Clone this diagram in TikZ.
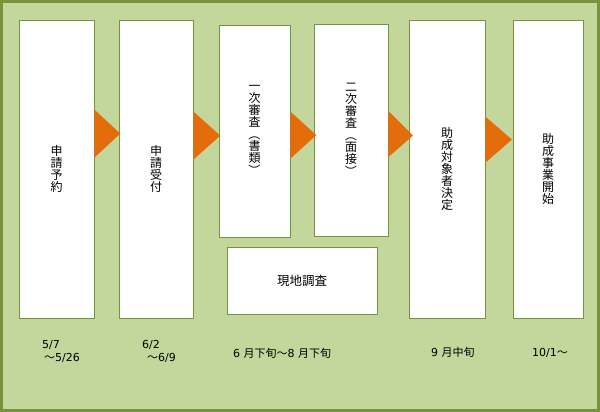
\documentclass[tikz,border=0pt]{standalone}
\usepackage{fontspec}
\setmainfont{DejaVu Sans}
\newfontfamily\cjk{Noto Sans CJK JP}
\usetikzlibrary{calc}
\definecolor{bg}{HTML}{C3D69B}
\definecolor{olive}{HTML}{77933C}
\definecolor{orng}{HTML}{E46C0A}
\newcommand\vparL{\raisebox{0.88em}[0.88em][0.12em]{\rotatebox{-90}{（}}}
\newcommand\vparR{\raisebox{0.88em}[0.88em][0.12em]{\rotatebox{-90}{）}}}
\begin{document}
\begin{tikzpicture}[x=1pt,y=-1pt,
  box/.style={draw=olive,line width=0.8pt,fill=white,inner sep=0pt,align=center,
    font=\cjk\fontsize{12}{12}\selectfont},
  tri/.style={fill=orng},
  lbl/.style={inner sep=0pt,anchor=base west,text=black,font=\fontsize{11}{13}\selectfont}]
\useasboundingbox (0,0) rectangle (600,412);
\draw[olive,line width=3pt,fill=bg] (1.5,1.5) rectangle (598.5,410.5);
% boxes
\node[box,minimum width=75pt,minimum height=298pt] (b1) at (56.5,169) {申\\請\\予\\約};
\node[box,minimum width=74pt,minimum height=298pt] (b2) at (156,169) {申\\請\\受\\付};
\node[box,minimum width=71pt,minimum height=212pt] (b3) at (254.5,131) {一\\次\\審\\査\\\vparL\\書\\類\\\vparR};
\node[box,minimum width=74pt,minimum height=212pt] (b4) at (351,130.5) {二\\次\\審\\査\\\vparL\\面\\接\\\vparR};
\node[box,minimum width=76pt,minimum height=298pt] (b5) at (447,169) {助\\成\\対\\象\\者\\決\\定};
\node[box,minimum width=70pt,minimum height=298pt] (b6) at (548,169) {助\\成\\事\\業\\開\\始};
\node[box,minimum width=150pt,minimum height=67pt,font=\cjk\fontsize{12.5}{13}\selectfont] (b7) at (302,280.5) {現地調査};
% arrows
\fill[tri] ($(b1.north east)+(0,90)$) -- ($(b1.north east)+(0,138)$) -- ($(b2.north west)+(1.7,114)$) -- cycle;
\fill[tri] ($(b2.north east)+(0,92)$) -- ($(b2.north east)+(0,140)$) -- ($(b3.north west)+(1.7,111)$) -- cycle;
\fill[tri] ($(b3.north east)+(0,87)$) -- ($(b3.north east)+(0,134)$) -- ($(b4.north west)+(2.7,111)$) -- cycle;
\fill[tri] ($(b4.north east)+(0,87)$) -- ($(b4.north east)+(0,133)$) -- ($(b5.north west)+(4.3,116)$) -- cycle;
\fill[tri] ($(b5.north east)+(0,97)$) -- ($(b5.north east)+(0,143)$) -- ($(b6.north west)+(-0.7,120)$) -- cycle;
% dates
\node[lbl] (d1a) at (42,348) {5/7};
\node[lbl] (d1b) at (44,361.5) {{\cjk ～}5/26};
\node[lbl] (d2a) at (142,348) {6/2};
\node[lbl] (d2b) at (147,361.5) {{\cjk ～}6/9};
\node[lbl] (d3) at (233,357) {6 {\cjk 月下旬～}8 {\cjk 月下旬}};
\node[lbl] (d4) at (431,356) {9 {\cjk 月中旬}};
\node[lbl] (d5) at (532,356) {10/1{\cjk ～}};
\end{tikzpicture}
\end{document}
